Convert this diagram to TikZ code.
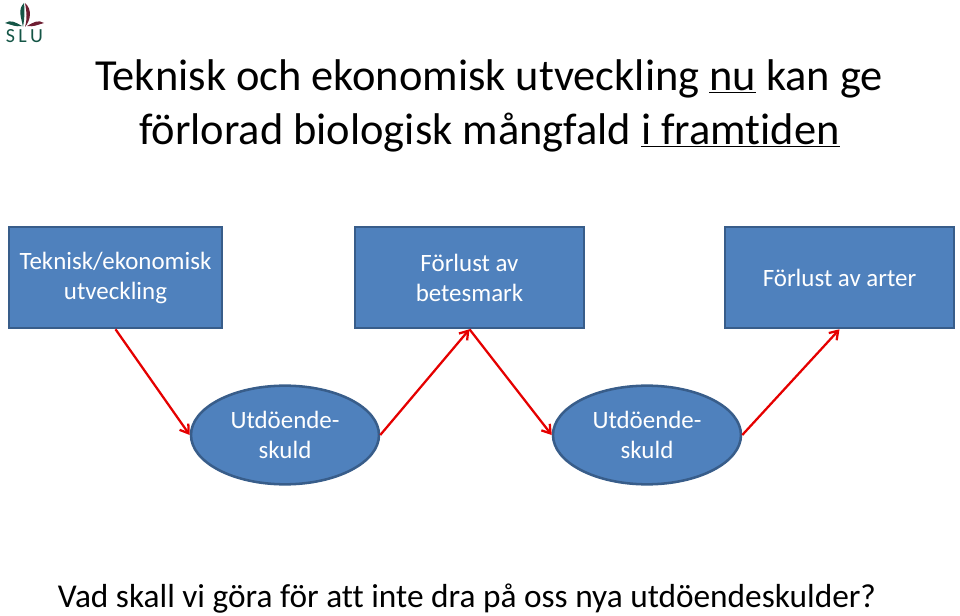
\documentclass[tikz,border=0pt]{standalone}
\usepackage{fontspec}
\setmainfont[Ligatures=CommonOff]{Carlito}
\usetikzlibrary{shapes.geometric, arrows.meta}
\definecolor{boxblue}{RGB}{79,129,189}
\definecolor{boxline}{RGB}{56,93,138}
\definecolor{slugreen}{RGB}{20,85,70}
\definecolor{slured}{RGB}{110,30,50}
\tikzset{every box/.style={draw=boxline,line width=1.9pt,fill=boxblue,text=white,align=center,font=\fontsize{18.7}{22.5}\selectfont,inner sep=0pt},
         block/.style={every box,rectangle,minimum height=75.75pt},
         lowered/.style={execute at begin node={\rule{0pt}{16.5pt}}},
         debt/.style={every box,ellipse,minimum width=141pt,minimum height=74pt},
         link/.style={draw=red!90!black,line width=1.7pt,-{Straight Barb[length=6pt,width=8pt]}},
        }

\begin{document}
\begin{tikzpicture}[x=0.75pt,y=-0.75pt]
        \useasboundingbox(0,0)rectangle(960,616);
        % logo
        \fill[slugreen](24,3)to[out=-135,in=100](23,27)to[out=80,in=-85](24,3);
        \fill[slured](25,3)to[out=-40,in=50](25,27)to[out=75,in=-80](25,3);
        \fill[slugreen](5,23)to[out=35,in=150](22,26)to[out=-170,in=-15](5,23);
        \fill[slured](44,23)to[out=145,in=30](27,26)to[out=-10,in=195](44,23);
        \node[text=slugreen,font=\fontsize{15}{15}\selectfont,inner sep=0pt](logo)at(24.5,36.5){S\,L\,U};

        \node[font=\fontsize{33.3}{40}\selectfont,inner sep=0pt](line1)at(489,78.5){Teknisk och ekonomisk utveckling \underline{nu} kan ge};
        \node[font=\fontsize{33.3}{40}\selectfont,inner sep=0pt](line2)at(489.5,132.5){förlorad biologisk mångfald \underline{i framtiden}};

        \node[block,lowered,minimum width=159.75pt](tekn)at(115.5,277.5){Teknisk/ekonomisk\\utveckling};
        \node[block,lowered,minimum width=171.75pt](bete)at(469.5,277.5){Förlust av\\betesmark};
        \node[block,minimum width=171.75pt](arter)at(839.5,277.5){Förlust av arter};
        \node[debt](skuld1)at(285,435){Utdöende-\\skuld};
        \node[debt](skuld2)at(647,435){Utdöende-\\skuld};

        \draw[link](tekn.south)--(skuld1.west);
        \draw[link](skuld1.east)--(bete.south);
        \draw[link](bete.south)--(skuld2.west);
        \draw[link](skuld2.east)--(arter.south);

        \node[font=\fontsize{25}{30}\selectfont,inner sep=0pt](fraga)at(467,599){Vad skall vi göra för att inte dra på oss nya utdöendeskulder?};
    \end{tikzpicture}
\end{document}
